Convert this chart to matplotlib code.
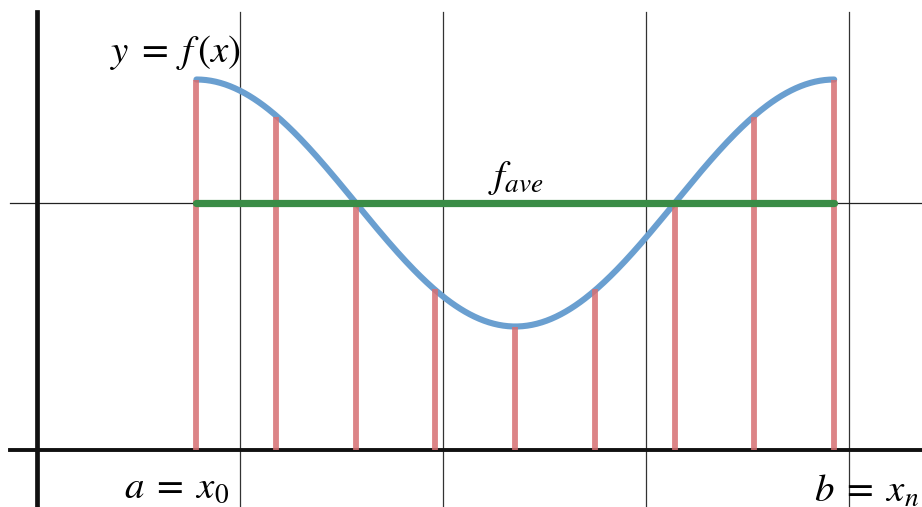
import numpy as np
import matplotlib
matplotlib.use("Agg")
import matplotlib.pyplot as plt

plt.rcParams["mathtext.fontset"] = "stix"

# f(x) = offset + amp * sin(2x) on [pi/4, 5pi/4]
offset = 1.0
amp = 0.5
a_val = np.pi / 4
b_val = 5 * np.pi / 4

# sample points (red lines) and their heights
sample_x = [0.785, 1.178, 1.571, 1.963, 2.356, 2.749, 3.142, 3.534, 3.927]
sample_y = [1.50, 1.35, 1.00, 0.65, 0.50, 0.65, 1.00, 1.35, 1.50]
f_ave = 1.0

grid_x = [1, 2, 3, 4]

fig = plt.figure(figsize=(9.22, 5.07), dpi=100)
ax = fig.add_axes([0, 0, 1, 1])
ax.set_xlim(-37 / 203, 885 / 203)
ax.set_ylim(-57 / 247, 450 / 247)
ax.axis("off")

top = 438 / 247
for gx in grid_x:
    ax.plot([gx, gx], [-1, top], color="#333333", lw=0.9, zorder=1)
ax.plot([-27 / 203, 10], [f_ave, f_ave], color="#222222", lw=0.9, zorder=1)

# axes
ax.plot([0, 0], [-1, top], color="#111111", lw=3.4, zorder=2)
ax.plot([-27 / 203, 10], [0, 0], color="#111111", lw=2.8, zorder=2)

xs = np.linspace(a_val, b_val, 400)
ax.plot(xs, offset + amp * np.sin(2 * xs), color="#6a9fd0", lw=4.4,
        solid_capstyle="round", zorder=3)

ax.vlines(sample_x, 0, sample_y, color="#d66f72", lw=4.2, alpha=0.85, zorder=4)

ax.plot([a_val, b_val], [f_ave, f_ave], color="#3a8c46", lw=5.2,
        solid_capstyle="round", zorder=5)

fs = 28
ax.text(0.36, 1.61, r"$y\;=\;f\,(x)$", fontsize=fs, ha="left", va="center")
ax.text(2.22, 1.1, r"$f_{ave}$", fontsize=fs, ha="left", va="center")
ax.text(0.43, -0.15, r"$a\;=\;x_0$", fontsize=fs, ha="left", va="center")
ax.text(3.83, -0.165, r"$b\;=\;x_n$", fontsize=fs, ha="left", va="center")

fig.savefig("out.png", dpi=100)
